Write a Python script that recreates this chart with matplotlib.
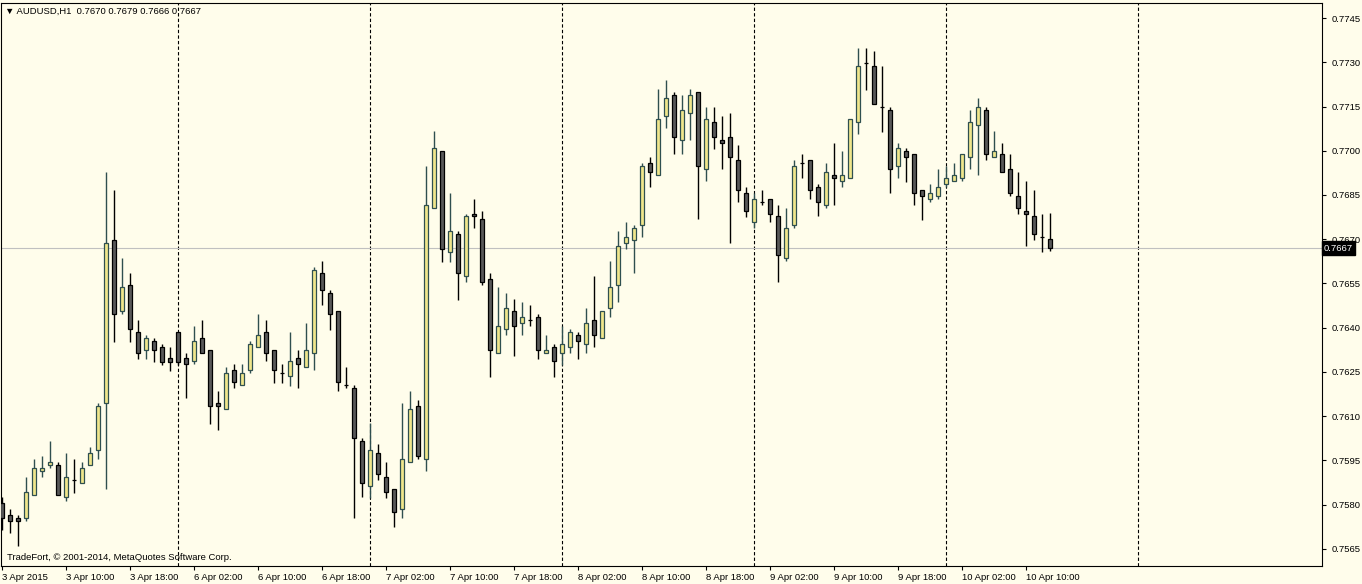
import numpy as np
import matplotlib.pyplot as plt
import matplotlib.transforms as mtransforms

# AUDUSD H1, 3 Apr 2015 02:00 .. 10 Apr 2015 13:00 (one value per bar)
opens = [
    0.75805, 0.75765, 0.75754, 0.75754, 0.75832, 0.75913, 0.75934, 0.75934, 0.75825, 0.75883,
    0.75873, 0.75934, 0.75986, 0.76144, 0.76696, 0.76456, 0.76545, 0.76385, 0.76324, 0.76354,
    0.76334, 0.76296, 0.76385, 0.76296, 0.76286, 0.76364, 0.76324, 0.76144, 0.76124, 0.76256,
    0.76205, 0.76256, 0.76334, 0.76385, 0.76324, 0.76246, 0.76235, 0.76296, 0.76266, 0.76313,
    0.76585, 0.76517, 0.76456, 0.76205, 0.76195, 0.76016, 0.75864, 0.75975, 0.75894, 0.75852,
    0.75785, 0.75944, 0.76134, 0.75954, 0.76805, 0.76998, 0.76656, 0.76717, 0.76574, 0.76785,
    0.76768, 0.76564, 0.76313, 0.76395, 0.76456, 0.76415, 0.76425, 0.76435, 0.76313, 0.76334,
    0.76313, 0.76334, 0.76374, 0.76344, 0.76425, 0.76364, 0.76466, 0.76544, 0.76686, 0.76696,
    0.76747, 0.76957, 0.76917, 0.77117, 0.77188, 0.77035, 0.77127, 0.77198, 0.76937, 0.77096,
    0.77035, 0.77046, 0.76968, 0.76856, 0.76757, 0.76825, 0.76835, 0.76778, 0.76636, 0.76747,
    0.76957, 0.76968, 0.76876, 0.76815, 0.76917, 0.76896, 0.76907, 0.77096, 0.77296, 0.77286,
    0.77147, 0.77137, 0.76947, 0.76998, 0.76988, 0.76866, 0.76835, 0.76846, 0.76886, 0.76896,
    0.76907, 0.76978, 0.77086, 0.77137, 0.76978, 0.76988, 0.76937, 0.76846, 0.76795, 0.76778,
    0.76707, 0.76700]
highs = [
    0.75827, 0.75785, 0.75765, 0.75895, 0.75955, 0.75965, 0.76016, 0.75944, 0.75975, 0.75955,
    0.75944, 0.75996, 0.76145, 0.76927, 0.76867, 0.76637, 0.76586, 0.76426, 0.76375, 0.76365,
    0.76345, 0.76334, 0.76385, 0.76313, 0.76406, 0.76426, 0.76324, 0.76186, 0.76266, 0.76276,
    0.76276, 0.76354, 0.76447, 0.76426, 0.76324, 0.76276, 0.76386, 0.76324, 0.76416, 0.76605,
    0.76625, 0.76527, 0.76456, 0.76266, 0.76206, 0.76025, 0.76076, 0.76006, 0.75945, 0.75852,
    0.76144, 0.76186, 0.76155, 0.76948, 0.77067, 0.76998, 0.76857, 0.76727, 0.76785, 0.76836,
    0.76796, 0.76585, 0.76538, 0.76518, 0.76497, 0.76487, 0.76477, 0.76446, 0.76374, 0.76344,
    0.76405, 0.76395, 0.76385, 0.76467, 0.76574, 0.76456, 0.76625, 0.76727, 0.76757, 0.76747,
    0.76957, 0.76978, 0.77208, 0.77239, 0.77198, 0.77188, 0.77208, 0.77198, 0.77147, 0.77147,
    0.77117, 0.77127, 0.77018, 0.76876, 0.76856, 0.76866, 0.76835, 0.76815, 0.76805, 0.76968,
    0.76988, 0.76968, 0.76886, 0.76957, 0.77025, 0.76998, 0.77107, 0.77347, 0.77347, 0.77337,
    0.77286, 0.77147, 0.77025, 0.77008, 0.76988, 0.76866, 0.76886, 0.76937, 0.76947, 0.76957,
    0.76988, 0.77138, 0.77178, 0.77147, 0.77066, 0.77025, 0.76988, 0.76927, 0.76896, 0.76866,
    0.76785, 0.76790]
lows = [
    0.75714, 0.75703, 0.75660, 0.75743, 0.75832, 0.75893, 0.75924, 0.75832, 0.75814, 0.75841,
    0.75873, 0.75934, 0.75954, 0.75852, 0.76353, 0.76446, 0.76353, 0.76295, 0.76295, 0.76285,
    0.76275, 0.76254, 0.76274, 0.76163, 0.76276, 0.76313, 0.76073, 0.76054, 0.76124, 0.76195,
    0.76205, 0.76246, 0.76334, 0.76286, 0.76214, 0.76214, 0.76204, 0.76194, 0.76266, 0.76256,
    0.76476, 0.76393, 0.76185, 0.76195, 0.75754, 0.75825, 0.75824, 0.75884, 0.75824, 0.75724,
    0.75754, 0.75944, 0.75954, 0.75913, 0.76805, 0.76624, 0.76624, 0.76495, 0.76554, 0.76737,
    0.76544, 0.76234, 0.76313, 0.76374, 0.76305, 0.76374, 0.76405, 0.76295, 0.76313, 0.76234,
    0.76274, 0.76313, 0.76295, 0.76313, 0.76334, 0.76364, 0.76435, 0.76486, 0.76666, 0.76585,
    0.76707, 0.76876, 0.76917, 0.77076, 0.76988, 0.76988, 0.77035, 0.76768, 0.76896, 0.77007,
    0.76937, 0.76686, 0.76825, 0.76776, 0.76737, 0.76815, 0.76757, 0.76554, 0.76625, 0.76737,
    0.76907, 0.76835, 0.76778, 0.76805, 0.76815, 0.76876, 0.76907, 0.77056, 0.77206, 0.77157,
    0.77065, 0.76856, 0.76907, 0.76895, 0.76815, 0.76766, 0.76825, 0.76835, 0.76876, 0.76896,
    0.76896, 0.76937, 0.76917, 0.76968, 0.76978, 0.76927, 0.76846, 0.76785, 0.76676, 0.76696,
    0.76656, 0.76660]
closes = [
    0.75754, 0.75743, 0.75743, 0.75842, 0.75924, 0.75924, 0.75944, 0.75832, 0.75893, 0.75883,
    0.75924, 0.75974, 0.76134, 0.76686, 0.76446, 0.76537, 0.76395, 0.76313, 0.76365, 0.76324,
    0.76285, 0.76285, 0.76285, 0.76276, 0.76354, 0.76313, 0.76134, 0.76134, 0.76246, 0.76215,
    0.76246, 0.76344, 0.76374, 0.76313, 0.76256, 0.76246, 0.76286, 0.76276, 0.76324, 0.76595,
    0.76527, 0.76446, 0.76215, 0.76205, 0.76025, 0.75873, 0.75986, 0.75904, 0.75843, 0.75774,
    0.75954, 0.76124, 0.75964, 0.76815, 0.77008, 0.76666, 0.76727, 0.76585, 0.76778, 0.76778,
    0.76554, 0.76324, 0.76405, 0.76466, 0.76405, 0.76435, 0.76425, 0.76324, 0.76324, 0.76286,
    0.76344, 0.76385, 0.76354, 0.76415, 0.76374, 0.76456, 0.76537, 0.76676, 0.76707, 0.76737,
    0.76947, 0.76927, 0.77107, 0.77178, 0.77046, 0.77137, 0.77188, 0.76947, 0.77107, 0.77046,
    0.77025, 0.76978, 0.76866, 0.76795, 0.76835, 0.76825, 0.76785, 0.76646, 0.76737, 0.76947,
    0.76957, 0.76866, 0.76825, 0.76927, 0.76907, 0.76917, 0.77107, 0.77286, 0.77296, 0.77157,
    0.77147, 0.76937, 0.77008, 0.76978, 0.76856, 0.76846, 0.76856, 0.76876, 0.76907, 0.76917,
    0.76988, 0.77096, 0.77147, 0.76988, 0.76998, 0.76927, 0.76856, 0.76805, 0.76785, 0.76717,
    0.76707, 0.76670]

time_labels = ["3 Apr 2015", "3 Apr 10:00", "3 Apr 18:00", "6 Apr 02:00", "6 Apr 10:00",
               "6 Apr 18:00", "7 Apr 02:00", "7 Apr 10:00", "7 Apr 18:00", "8 Apr 02:00",
               "8 Apr 10:00", "8 Apr 18:00", "9 Apr 02:00", "9 Apr 10:00", "9 Apr 18:00",
               "10 Apr 02:00", "10 Apr 10:00"]
day_starts = [22, 46, 70, 94, 118, 142]   # bar index of 00:00 each day
price_ticks = [0.7565, 0.7580, 0.7595, 0.7610, 0.7625, 0.7640, 0.7655,
               0.7670, 0.7685, 0.7700, 0.7715, 0.7730, 0.7745]
last_price = 0.7667

bg = '#fffdeb'
plt.rcParams['font.family'] = ['Liberation Sans', 'DejaVu Sans']
plt.rcParams['font.size'] = 6.8

fig = plt.figure(figsize=(13.62, 5.84), dpi=100, facecolor=bg)
ax = fig.add_axes([1 / 1362, 18 / 584, 1321 / 1362, 563 / 584], facecolor=bg)

o = np.array(opens)
h = np.array(highs)
l = np.array(lows)
c = np.array(closes)
x = np.arange(len(o))
up = c > o
dn = ~up

# day separators and current price line
for d in day_starts:
    ax.axvline(d, color='black', lw=0.8, ls=(0, (3, 2)), zorder=1)
ax.axhline(last_price, color='#c0c0c0', lw=0.8, zorder=1)

# wicks
ax.vlines(x[up], l[up], h[up], color='#2f4f4f', lw=1, zorder=2)
ax.vlines(x[dn], l[dn], h[dn], color='black', lw=1, zorder=2)
# bodies
ax.bar(x[up], (c - o)[up], bottom=o[up], width=0.6, color='#f0e68c',
       edgecolor='#2f4f4f', lw=0.9, zorder=3)
ax.bar(x[dn], (o - c)[dn], bottom=c[dn], width=0.6, color='#595959',
       edgecolor='black', lw=0.9, zorder=3)

ax.set_xlim(-0.125, 165)
ax.set_ylim(0.75592, 0.77501)

ax.yaxis.tick_right()
ax.set_yticks(price_ticks)
ax.set_yticklabels(['%.4f' % p for p in price_ticks])
ax.tick_params(axis='y', length=3, width=0.8, pad=4, colors='black')

ax.set_xticks(np.arange(0, 8 * len(time_labels), 8))
ax.set_xticklabels(time_labels, ha='left')
ax.tick_params(axis='x', length=3, width=0.8, pad=2, colors='black')

for s in ax.spines.values():
    s.set_color('black')
    s.set_linewidth(0.8)

# current price box on the right axis
trans = mtransforms.blended_transform_factory(ax.transAxes, ax.transData)
ax.text(1.0015, last_price, '%.4f' % last_price, transform=trans, color='white',
        va='center', ha='left', clip_on=False,
        bbox=dict(boxstyle='square,pad=0.25', fc='black', ec='black'))

fig.text(5 / 1362, 1 - 11 / 584, '\u25bc AUDUSD,H1  0.7670 0.7679 0.7666 0.7667',
         va='center', ha='left', color='black')
ax.text(6 / 1321, 8 / 563, 'TradeFort, \u00a9 2001-2014, MetaQuotes Software Corp.',
        transform=ax.transAxes, va='center', ha='left', color='black')

fig.savefig('out.png', dpi=100, facecolor=bg)
